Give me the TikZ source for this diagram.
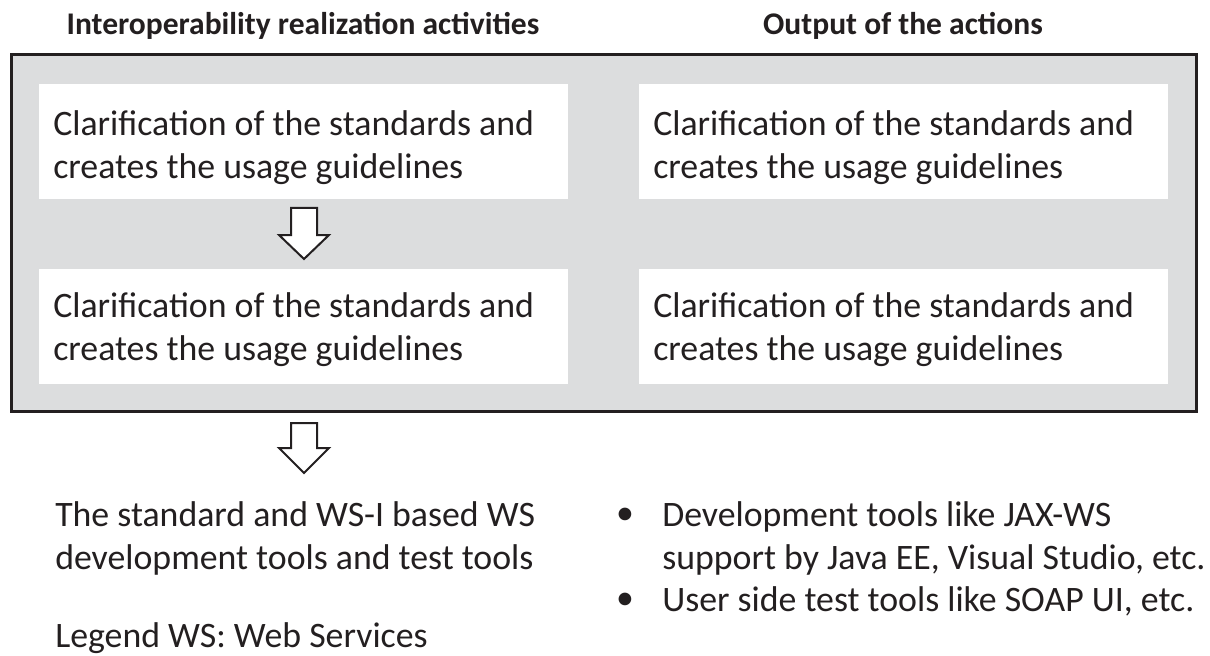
\documentclass[tikz,border=0pt]{standalone}
\usepackage{xcolor}
\usepackage{fontspec}
\setmainfont{Carlito}
\usepackage{tikz}

\definecolor{boxgray}{RGB}{220,221,222}
\definecolor{inkdark}{RGB}{35,31,32}

\begin{document}
\begin{tikzpicture}[x=0.75pt,y=0.75pt,yscale=-1,xscale=1,
  body/.style={font=\fontsize{26.85}{32.25}\selectfont, text=inkdark, inner sep=0pt, align=left, anchor=base west},
  head/.style={font=\fontsize{23.65}{28}\selectfont\bfseries, text=inkdark, inner sep=0pt, anchor=base},
  wbox/.style={fill=white, draw=none, inner sep=0pt, anchor=north west, minimum width=396.75pt, minimum height=86.25pt},
  downarrow/.style={draw=inkdark, fill=white, line width=1.5pt, line join=miter}]
\useasboundingbox (0,0) rectangle (1210,656);

% Text Node
\node [head] (hdrAct) at (303,35) {Interoperability realization activities};
% Text Node
\node [head] (hdrOut) at (903,35) {Output of the actions};

%Shape: Rectangle [id:grayframe]
\draw [draw=inkdark, fill=boxgray, line width=2.25pt] (11,55) rectangle (1196,411) ;

%Shape: Rectangle [id:act1]
\node [wbox] (act1) at (39,84) {};
%Shape: Rectangle [id:out1]
\node [wbox] (out1) at (639,84) {};
%Shape: Rectangle [id:act2]
\node [wbox] (act2) at (39,269) {};
%Shape: Rectangle [id:out2]
\node [wbox] (out2) at (639,269) {};

% Text Node (base = last line)
\node [body] (actTxt1) at (53,179) {Clarification of the standards and\\creates the usage guidelines};
% Text Node
\node [body] (outTxt1) at (653,179) {Clarification of the standards and\\creates the usage guidelines};
% Text Node
\node [body] (actTxt2) at (53,360) {Clarification of the standards and\\creates the usage guidelines};
% Text Node
\node [body] (outTxt2) at (653,360) {Clarification of the standards and\\creates the usage guidelines};

%Shape: Down Arrow [id:arrowA]
\draw [downarrow] (291,208) -- (317,208) -- (317,235) -- (329,235) -- (304,259) -- (279,235) -- (291,235) -- cycle ;
%Shape: Down Arrow [id:arrowB]
\draw [downarrow] (291,423) -- (317,423) -- (317,448) -- (329,448) -- (304,473) -- (279,448) -- (291,448) -- cycle ;

% Text Node
\node [body] (toolsTxt) at (55,569) {The standard and WS-I based WS\\development tools and test tools};
% Text Node
\node [body] (legendTxt) at (55,647) {Legend WS: Web Services};

% Text Node
\node [body, anchor=base] (dotA) at (625,524) {\textbullet};
\node [body] (itemA) at (662,569) {Development tools like JAX-WS\\support by Java EE, Visual Studio, etc.};
% Text Node
\node [body, anchor=base] (dotB) at (625,609) {\textbullet};
\node [body] (itemB) at (662,611) {User side test tools like SOAP UI, etc.};

\end{tikzpicture}
\end{document}
